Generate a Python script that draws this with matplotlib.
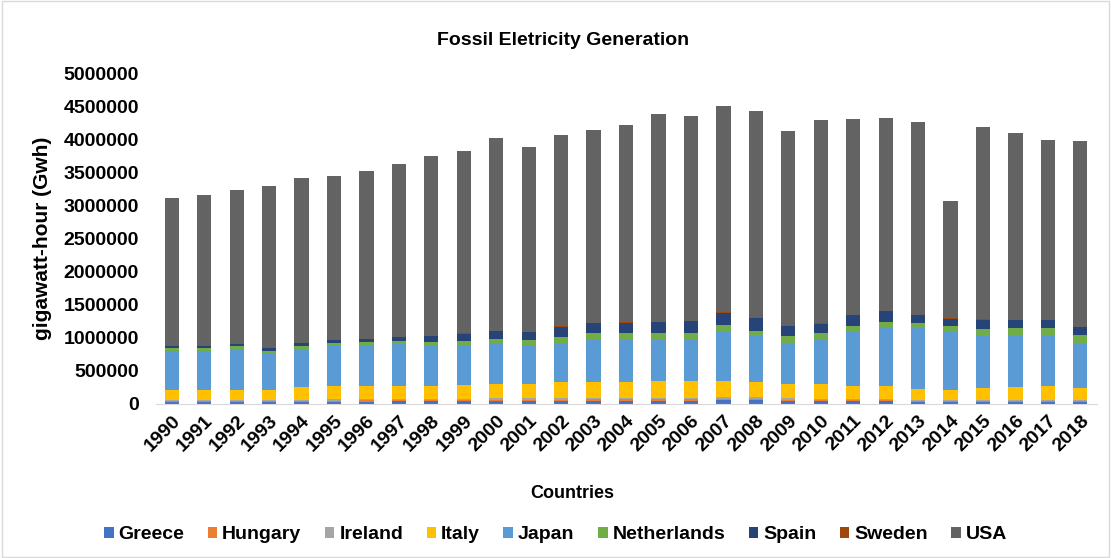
import numpy as np
import matplotlib
matplotlib.use("Agg")
import matplotlib.pyplot as plt
from matplotlib.patches import Rectangle

plt.rcParams['font.family'] = ['Liberation Sans', 'DejaVu Sans']
plt.rcParams['font.weight'] = 'bold'

years = [str(y) for y in range(1990, 2019)]

# fossil generation per country, GWh
greece = [32000, 33000, 34000, 35000, 36000, 37000, 37000, 39000, 41000, 42000,
          46000, 47000, 48000, 49000, 51000, 52000, 51000, 56000, 55000, 50000,
          44000, 45000, 44000, 36000, 35000, 32000, 30000, 32000, 33000]
hungary = [14000, 14000, 14000, 15000, 15000, 15000, 16000, 16000, 16000, 17000,
           17000, 18000, 18000, 20000, 19000, 19000, 19000, 21000, 21000, 17000,
           16000, 15000, 14000, 12000, 11000, 12000, 12000, 13000, 12000]
ireland = [13000, 13000, 14000, 15000, 15000, 16000, 17000, 18000, 19000, 20000,
           21000, 22000, 22000, 22000, 22000, 22000, 22000, 23000, 23000, 21000,
           22000, 19000, 20000, 19000, 18000, 19000, 20000, 20000, 19000]
italy = [156000, 155000, 153000, 150000, 184000, 197000, 195000, 202000, 199000, 206000,
         216000, 213000, 237000, 244000, 243000, 247000, 248000, 250000, 226000, 212000,
         218000, 196000, 197000, 158000, 151000, 172000, 188000, 200000, 171000]
japan = [585000, 585000, 610000, 535000, 575000, 610000, 620000, 625000, 610000, 590000,
         600000, 575000, 600000, 650000, 650000, 645000, 645000, 750000, 700000, 625000,
         675000, 825000, 890000, 925000, 885000, 790000, 800000, 785000, 690000]
netherlands = [45000, 45000, 45000, 55000, 55000, 50000, 50000, 50000, 55000, 75000,
               80000, 85000, 90000, 95000, 95000, 95000, 95000, 90000, 85000, 95000,
               100000, 85000, 70000, 70000, 75000, 110000, 100000, 100000, 110000]
spain = [25000, 25000, 35000, 40000, 40000, 40000, 45000, 60000, 85000, 115000,
         120000, 125000, 155000, 145000, 150000, 160000, 175000, 190000, 190000, 160000,
         140000, 155000, 165000, 120000, 115000, 140000, 115000, 115000, 125000]
sweden = [4000, 4000, 4000, 5000, 5000, 5000, 6000, 5000, 5000, 5000,
          4000, 5000, 5000, 5000, 5000, 5000, 5000, 5000, 5000, 5000,
          6000, 5000, 4000, 4000, 4000, 4000, 4000, 4000, 4000]
usa = [2246000, 2286000, 2331000, 2451000, 2495000, 2480000, 2534000, 2615000, 2720000, 2760000,
       2916000, 2790000, 2885000, 2910000, 2975000, 3135000, 3090000, 3125000, 3115000, 2935000,
       3069000, 2955000, 2916000, 2916000, 1766000, 2901000, 2831000, 2721000, 2816000]

series = [
    ("Greece", greece, "#4472C4"),
    ("Hungary", hungary, "#ED7D31"),
    ("Ireland", ireland, "#A5A5A5"),
    ("Italy", italy, "#FFC000"),
    ("Japan", japan, "#5B9BD5"),
    ("Netherlands", netherlands, "#70AD47"),
    ("Spain", spain, "#264478"),
    ("Sweden", sweden, "#9E480E"),
    ("USA", usa, "#636363"),
]

fig = plt.figure(figsize=(11.11, 5.58), dpi=100)
ax = fig.add_axes([0.140, 0.276, 0.847, 0.593])

x = np.arange(len(years))
bottom = np.zeros(len(years))
for name, vals, color in series:
    ax.bar(x, vals, 0.44, bottom=bottom, color=color, label=name)
    bottom += np.array(vals)

ax.set_xlim(-0.5, len(years) - 0.5)
ax.set_ylim(0, 5000000)
ax.set_yticks(np.arange(0, 5000001, 500000))
ax.set_yticklabels([str(v) for v in range(0, 5000001, 500000)], fontsize=14, fontweight='bold')
ax.set_xticks(x)
ax.set_xticklabels(years, rotation=45, ha='right', rotation_mode='anchor',
                   fontsize=14, fontweight='bold')
ax.tick_params(axis='y', length=0, pad=12)
ax.tick_params(axis='x', length=0, pad=6)
for side in ['top', 'right', 'left']:
    ax.spines[side].set_visible(False)
ax.spines['bottom'].set_color('#d9d9d9')

ax.set_ylabel("gigawatt-hour (Gwh)", fontsize=15, fontweight='bold', labelpad=8)
fig.text(0.507, 0.928, "Fossil Eletricity Generation", ha='center', va='center',
         fontsize=14, fontweight='bold')
fig.text(0.515, 0.116, "Countries", ha='center', va='center',
         fontsize=13, fontweight='bold')

fig.legend(loc='center', bbox_to_anchor=(0.50, 0.042), ncol=9, frameon=False,
           fontsize=14, handlelength=0.5, handleheight=0.5, handletextpad=0.25,
           columnspacing=1.2)

fig.patches.append(Rectangle((0.002, 0.002), 0.996, 0.996, transform=fig.transFigure,
                             fill=False, edgecolor='#d9d9d9', linewidth=1))

fig.savefig("out.png", dpi=100)
